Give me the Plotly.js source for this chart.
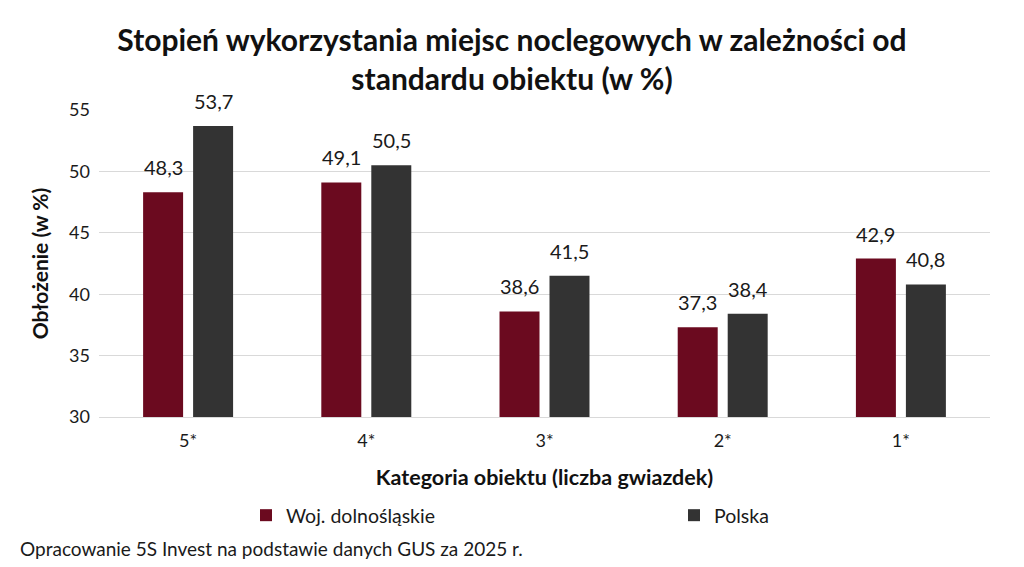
<!DOCTYPE html>
<html>
<head>
<meta charset="utf-8">
<script src="https://cdn.plot.ly/plotly-3.0.1.min.js"></script>
<style>
  html, body { margin: 0; padding: 0; background: #ffffff; }
  #chart { width: 1024px; height: 567px; }
</style>
</head>
<body>
<div id="chart"></div>
<script>
// categories and series
const categories = ['5*', '4*', '3*', '2*', '1*'];
const dolnoslaskie = [48.3, 49.1, 38.6, 37.3, 42.9];
const polska = [53.7, 50.5, 41.5, 38.4, 40.8];
const seriesNames = ['Woj. dolnośląskie', 'Polska'];
const yTicks = [30, 35, 40, 45, 50, 55];

const FONT = 'Lato, "Open Sans", sans-serif';

function barTrace(name, values, color, legendId) {
    return {
        type: 'bar',
        name: name,
        legend: legendId,
        x: categories,
        y: values,
        marker: { color: color },
        hoverinfo: 'x+y'
    };
}

const data = [
    barTrace(seriesNames[0], dolnoslaskie, '#6b0a1f', 'legend'),
    barTrace(seriesNames[1], polska, '#333333', 'legend2')
];

// value labels sit a bit higher above the bars than Plotly's 'outside' text,
// so they are annotations anchored on the bar values
function valueLabels(values, shift) {
    return values.map((v, i) => ({
        x: categories[i],
        y: v,
        xref: 'x',
        yref: 'y',
        text: v.toFixed(1).replace('.', ','),
        xshift: shift,
        yshift: 11,
        yanchor: 'bottom',
        showarrow: false,
        font: { family: FONT, size: 20, color: '#1a1a1a' }
    }));
}

// one legend per series so the two entries can sit far apart on one row
function legendAt(px) {
    return {
        orientation: 'h',
        xref: 'container',
        yref: 'container',
        x: px / 1024,
        xanchor: 'left',
        y: 1 - 496 / 567,
        yanchor: 'top',
        itemwidth: 30,
        font: { family: FONT, size: 19.5, color: '#1a1a1a' }
    };
}

const layout = {
    width: 1024,
    height: 567,
    separators: ',.',
    font: { family: FONT, color: '#1a1a1a' },
    paper_bgcolor: '#ffffff',
    plot_bgcolor: '#ffffff',
    margin: { l: 99, r: 34, t: 110, b: 150 },
    title: {
        text: 'Stopień wykorzystania miejsc noclegowych w zależności od<br>standardu obiektu (w %)',
        font: { family: FONT, size: 30, color: '#111111', weight: 'bold' },
        x: 0.5,
        xref: 'container',
        xanchor: 'center',
        y: 1 - 51 / 567,
        yref: 'container',
        yanchor: 'middle'
    },
    barmode: 'group',
    bargap: 0.439,
    bargroupgap: 0.2,
    xaxis: {
        type: 'category',
        showgrid: false,
        showline: true,
        linecolor: '#d9d9d9',
        ticks: '',
        ticklabelstandoff: 7,
        tickfont: { family: FONT, size: 18, color: '#1a1a1a' },
        title: {
            text: 'Kategoria obiektu (liczba gwiazdek)',
            font: { family: FONT, size: 21.5, color: '#111111', weight: 'bold' },
            standoff: 20
        }
    },
    yaxis: {
        range: [30, 55],
        tickvals: yTicks,
        showgrid: true,
        gridcolor: '#d9d9d9',
        gridwidth: 1.3,
        zeroline: false,
        ticks: '',
        ticklabelstandoff: 8,
        tickfont: { family: FONT, size: 18, color: '#1a1a1a' },
        title: {
            text: 'Obłożenie (w %)',
            font: { family: FONT, size: 21, color: '#111111', weight: 'bold' },
            standoff: 14
        }
    },
    showlegend: true,
    legend: legendAt(246),
    legend2: legendAt(674),
    annotations: [
        ...valueLabels(dolnoslaskie, -25),
        ...valueLabels(polska, 25),
        {
            text: 'Opracowanie 5S Invest na podstawie danych GUS za 2025 r.',
            xref: 'paper',
            yref: 'paper',
            x: (18 - 99) / 891,
            y: (417 - 548) / 307,
            xanchor: 'left',
            yanchor: 'middle',
            showarrow: false,
            font: { family: FONT, size: 19, color: '#1a1a1a' }
        }
    ]
};

Plotly.newPlot('chart', data, layout, { displayModeBar: false, staticPlot: true });
</script>
</body>
</html>
